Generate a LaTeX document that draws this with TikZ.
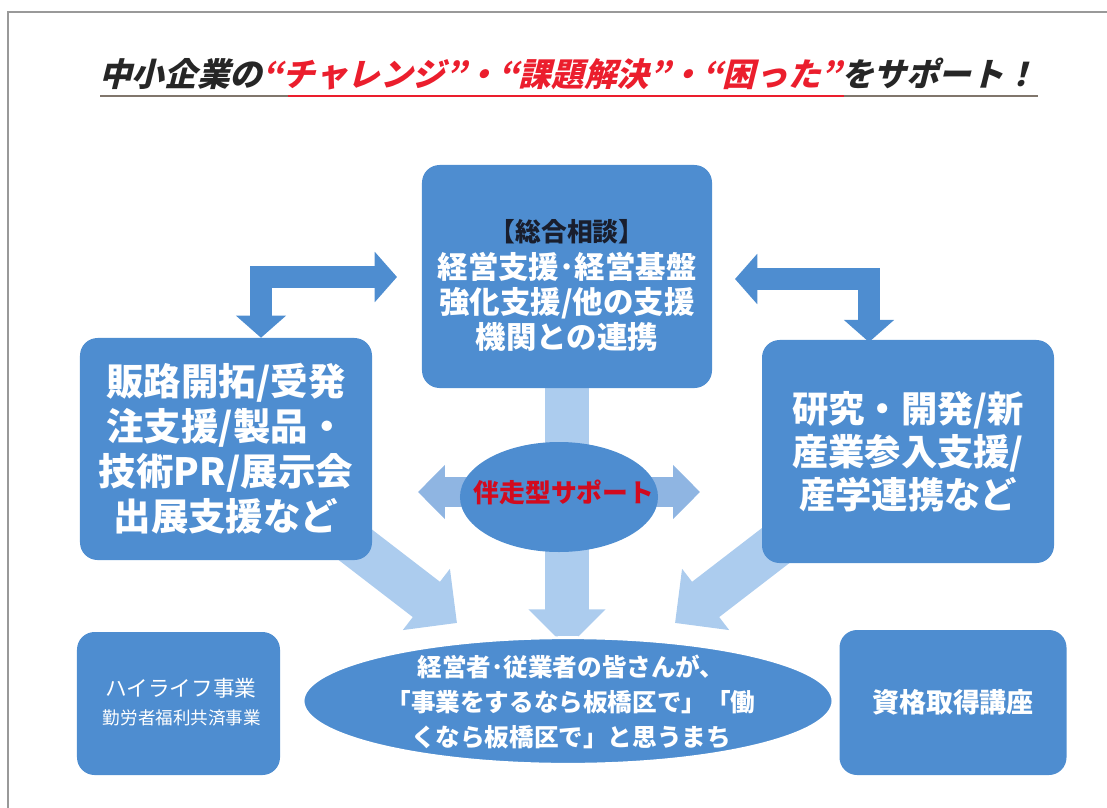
\documentclass[tikz,border=0pt]{standalone}
\usepackage{fontspec}
\setmainfont{Noto Sans CJK JP}
\newfontfamily\jpslant[FakeSlant=0.25]{Noto Sans CJK JP}
\usetikzlibrary{arrows.meta,shapes.geometric,backgrounds}

\definecolor{boxblue}{RGB}{78,141,208}
\definecolor{paleblue}{RGB}{172,204,238}
\definecolor{midblue}{RGB}{143,181,226}
\definecolor{supportred}{RGB}{210,10,30}
\definecolor{titlered}{RGB}{235,30,45}
\definecolor{linegray}{RGB}{128,118,108}
\definecolor{headdark}{RGB}{25,30,45}

\tikzset{
  panel/.style={fill=boxblue, rounded corners=15pt, inner sep=0pt},
  paneltext/.style={text=white, align=center, inner sep=0pt},
  elbow/.style={draw=boxblue, line width=19.5pt, line join=miter,
    {Triangle[width=42pt,length=19pt]}-{Triangle[width=42pt,length=19pt]}},
  flow/.style={draw=paleblue, line width=38pt, -{Triangle[width=64pt,length=33pt]}},
}

\begin{document}
\begin{tikzpicture}[x=0.03cm, y=-0.03cm]
    \useasboundingbox (0,0) rectangle (1107,808);
    \draw[gray!80, line width=0.9pt] (8,808) -- (8,12) -- (1107,12);

    % Title
    \node (title) at (568,74) {\jpslant\bfseries\fontsize{27.8}{32}\selectfont
      \textcolor{black!85}{中小企業の}\textcolor{titlered}{“チャレンジ”・“課題解決”・“困った”}\textcolor{black!85}{をサポート！}};
    \draw[linegray, line width=2.2pt] (100,96) -- (1038,96);
    \draw[titlered, line width=2.2pt] (288,96) -- (844,96);

    % Boxes
    \node[panel, minimum width=8.7cm, minimum height=6.69cm] (consult) at (567,276.5) {};
    \node[text=headdark, font=\bfseries\fontsize{22}{26}\selectfont] (consulthead) at (567,232) {【総合相談】};
    \node[paneltext, font=\bfseries\fontsize{26}{30}\selectfont] (consulttext) at (567,302)
      {経営支援･経営基盤\\強化支援/他の支援\\機関との連携};

    \node[panel, minimum width=8.76cm, minimum height=6.66cm, text=white, align=center,
      font=\bfseries\fontsize{32}{38.5}\selectfont] (sales) at (226,449)
      {販路開拓/受発\\注支援/製品・\\技術PR/展示会\\出展支援など};

    \node[panel, minimum width=8.76cm, minimum height=6.69cm, text=white, align=center,
      font=\bfseries\fontsize{31}{36.5}\selectfont] (research) at (908,451.5)
      {研究・開発/新\\産業参入支援/\\産学連携など};

    \node[panel, minimum width=6.09cm, minimum height=4.29cm] (hilife) at (178.5,703.5) {};
    \node[paneltext, font=\fontsize{18.5}{22}\selectfont] (hilifetop) at (181,688) {ハイライフ事業};
    \node[paneltext, font=\fontsize{15}{18}\selectfont] (hilifebot) at (182,718) {勤労者福利共済事業};

    \node[panel, minimum width=6.81cm, minimum height=4.35cm, text=white,
      font=\bfseries\fontsize{23}{27}\selectfont] (license) at (953,702.5) {資格取得講座};

    % Ellipses
    \node[ellipse, fill=boxblue, minimum width=5.94cm, minimum height=3.3cm, inner sep=0pt] (support) at (559,497) {};
    \node[text=supportred, font=\bfseries\fontsize{22}{26}\selectfont] (supporttext) at (564,492) {伴走型サポート};
    \node[ellipse, fill=boxblue, draw=white, line width=2.5pt, minimum width=15.9cm,
      minimum height=3.8cm, inner sep=0pt] (goal) at (568,701) {};
    \node[paneltext, font=\bfseries\fontsize{21}{30}\selectfont] (goaltext) at (571,702)
      {経営者･従業者の皆さんが、\\「事業をするなら板橋区で」「働\\くなら板橋区で」と思うまち};

    % Support flows
    \coordinate (hleft) at (418,492);
    \coordinate (hright) at (700,492);
    \coordinate (dleft) at (340,533);
    \coordinate (dright) at (792,533);
    \coordinate (dlefttip) at (457,623);
    \coordinate (drighttip) at (675,623);
    \begin{scope}[on background layer]
      \draw[flow] (consult.south) -- ([yshift=-10pt]goal.north -| consult.south);
      \draw[flow] (dleft) -- (dlefttip);
      \draw[flow] (dright) -- (drighttip);
      \draw[draw=midblue, line width=26pt,
        {Triangle[width=45pt,length=23pt]}-{Triangle[width=45pt,length=23pt]}] (hleft) -- (hright);
    \end{scope}

    % Links to the consultation desk
    \coordinate (lturn) at (397,277);
    \coordinate (rturn) at (735,279);
    \draw[elbow] (sales.north -| 261,0) |- (lturn);
    \draw[elbow] ([yshift=-2pt]research.north -| 869,0) |- (rturn);
\end{tikzpicture}
\end{document}
